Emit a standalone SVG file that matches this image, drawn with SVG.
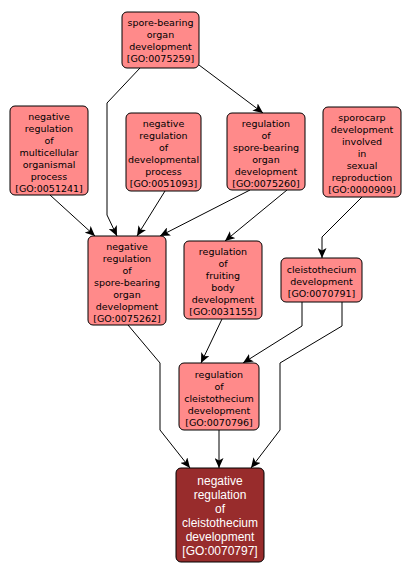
<svg xmlns="http://www.w3.org/2000/svg" width="410" height="575" viewBox="0 0 410 575">
<defs>
<marker id="arr" markerWidth="11" markerHeight="9" refX="10" refY="4.5" orient="auto" markerUnits="userSpaceOnUse">
<path d="M0,0 L10,4.5 L0,9 L2.5,4.5 z" fill="#000"/>
</marker>
<style>
.n rect{fill:#FF8A8A;stroke:#000;stroke-width:1}
.n text{font-family:"DejaVu Sans","Liberation Sans",sans-serif;font-size:9.5px;fill:#000;text-anchor:middle}
.d rect{fill:#982C2C;stroke:#000;stroke-width:1}
.d text{font-family:"Liberation Sans",sans-serif;font-size:12px;fill:#fff;text-anchor:middle}
.e path{fill:none;stroke:#000;stroke-width:1;marker-end:url(#arr)}
</style>
</defs>
<rect width="410" height="575" fill="#fff"/>
<g id="edges" class="e">
<path d="M140,68 L107,103 L107,215 L117,236"/>
<path d="M199,65 L263,113"/>
<path d="M50,195 L95,236"/>
<path d="M165,191 L137,236"/>
<path d="M250,190 L160,236"/>
<path d="M287,190 L225,241"/>
<path d="M362,197 L322,237 L322,258"/>
<path d="M302,302 L302,326 L243,363"/>
<path d="M342,302 L342,326 L280,363 L280,430 L251,468"/>
<path d="M128,325 L160,363 L160,430 L190,468"/>
<path d="M222,319 L201,363"/>
<path d="M219,430 L219,468"/>
</g>
<g id="GO0075259" class="n"><rect x="122" y="12" width="77" height="56" rx="5"/>
<text x="160.5" y="26">spore-bearing</text><text x="160.5" y="38">organ</text><text x="160.5" y="50">development</text><text x="160.5" y="62">[GO:0075259]</text></g>
<g id="GO0051241" class="n"><rect x="10" y="106" width="78" height="89" rx="5"/>
<text x="49" y="120">negative</text><text x="49" y="132">regulation</text><text x="49" y="144">of</text><text x="49" y="156">multicellular</text><text x="49" y="168">organismal</text><text x="49" y="180">process</text><text x="49" y="192">[GO:0051241]</text></g>
<g id="GO0051093" class="n"><rect x="126" y="113" width="75" height="78" rx="5"/>
<text x="163.5" y="127">negative</text><text x="163.5" y="139">regulation</text><text x="163.5" y="151">of</text><text x="163.5" y="163">developmental</text><text x="163.5" y="175">process</text><text x="163.5" y="187">[GO:0051093]</text></g>
<g id="GO0075260" class="n"><rect x="227" y="113" width="78" height="77" rx="5"/>
<text x="266" y="127">regulation</text><text x="266" y="139">of</text><text x="266" y="151">spore-bearing</text><text x="266" y="163">organ</text><text x="266" y="175">development</text><text x="266" y="187">[GO:0075260]</text></g>
<g id="GO0000909" class="n"><rect x="323" y="107" width="78" height="90" rx="5"/>
<text x="362" y="121">sporocarp</text><text x="362" y="133">development</text><text x="362" y="145">involved</text><text x="362" y="157">in</text><text x="362" y="169">sexual</text><text x="362" y="181">reproduction</text><text x="362" y="193">[GO:0000909]</text></g>
<g id="GO0075262" class="n"><rect x="88" y="236" width="78" height="89" rx="5"/>
<text x="127" y="250">negative</text><text x="127" y="262">regulation</text><text x="127" y="274">of</text><text x="127" y="286">spore-bearing</text><text x="127" y="298">organ</text><text x="127" y="310">development</text><text x="127" y="322">[GO:0075262]</text></g>
<g id="GO0031155" class="n"><rect x="184" y="241" width="78" height="78" rx="5"/>
<text x="223" y="255">regulation</text><text x="223" y="267">of</text><text x="223" y="279">fruiting</text><text x="223" y="291">body</text><text x="223" y="303">development</text><text x="223" y="315">[GO:0031155]</text></g>
<g id="GO0070791" class="n"><rect x="281" y="258" width="81" height="44" rx="5"/>
<text x="321.5" y="273">cleistothecium</text><text x="321.5" y="285">development</text><text x="321.5" y="297">[GO:0070791]</text></g>
<g id="GO0070796" class="n"><rect x="179" y="363" width="80" height="67" rx="5"/>
<text x="219" y="378">regulation</text><text x="219" y="390">of</text><text x="219" y="402">cleistothecium</text><text x="219" y="414">development</text><text x="219" y="426">[GO:0070796]</text></g>
<g id="GO0070797" class="d"><rect x="176" y="468" width="88" height="94" rx="5"/>
<text x="220" y="485">negative</text><text x="220" y="499">regulation</text><text x="220" y="513">of</text><text x="220" y="527">cleistothecium</text><text x="220" y="541">development</text><text x="220" y="555">[GO:0070797]</text></g>
</svg>
